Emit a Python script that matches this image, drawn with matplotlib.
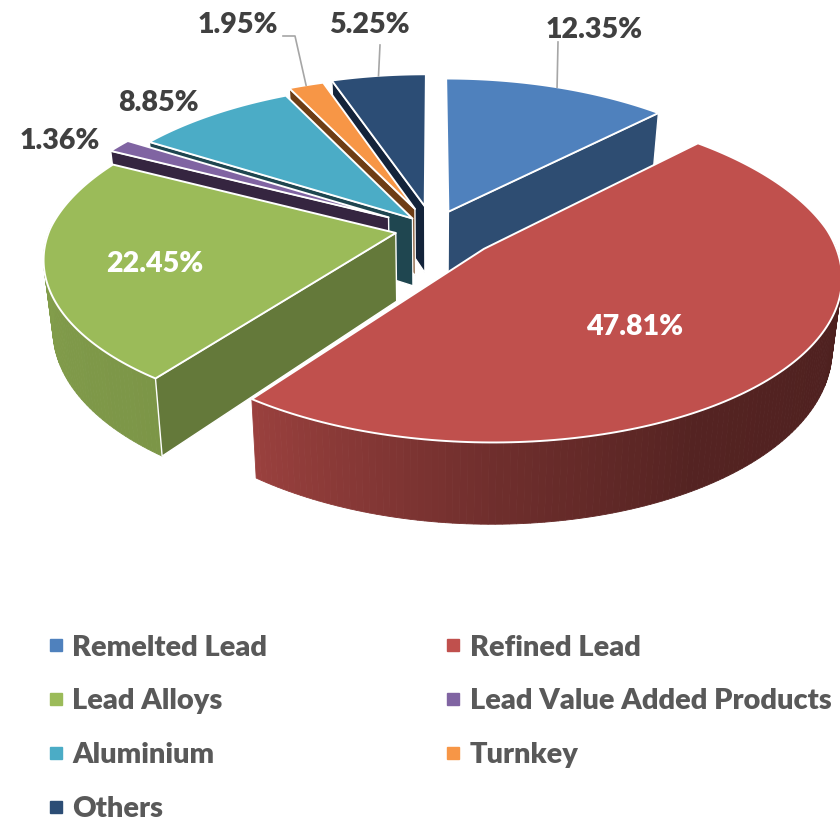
import matplotlib
matplotlib.use("Agg")
import matplotlib.pyplot as plt
from matplotlib.colors import to_rgb
from matplotlib.lines import Line2D
from matplotlib.patches import Polygon
import numpy as np

categories = ["Remelted Lead", "Refined Lead", "Lead Alloys", "Lead Value Added Products",
              "Aluminium", "Turnkey", "Others"]
values = [12.35, 47.81, 22.45, 1.36, 8.85, 1.95, 5.25]

colors = ["#4f81bd", "#c0504d", "#9bbb59", "#8064a2", "#4bacc6", "#f79646", "#2c4d75"]
face_colors = ["#2e4d72", "#5a2525", "#64793a", "#352540", "#1f4650", "#6e3d15", "#13233a"]
explode = [0.12, 0.19, 0.11, 0.15, 0.09, 0.14, 0.15]
draw_order = [0, 6, 5, 4, 3, 2, 1]

label_pos = [(594, 30), (635, 327), (155, 264), (60, 141), (158, 103), (238, 25), (369, 25)]
label_col = ["#404040", "white", "white", "#404040", "#404040", "#404040", "#404040"]

# projection of the pie disc, worked out from the picture
CX, CY, RX, RY, PERSP, DEPTH = 433, 229, 346, 158, 0.15, 68

plt.rcParams["font.family"] = ["Lato", "DejaVu Sans"]


def project(px, py, bottom=False):
    den = 1 + PERSP * py
    # the back of the pie is a bit narrower than plain perspective gives
    x = CX + RX * px / (den + 0.025 * max(py, 0))
    y = CY - RY * py / den
    if bottom:
        y = y + DEPTH / den
        x = x + (CX - x) * 0.024
    return x, y


def side_shade(theta):
    return np.interp(theta, [100, 150, 180, 216, 290], [0.40, 0.44, 0.58, 0.80, 0.86])


fig = plt.figure(figsize=(8.4, 8.22), dpi=100)
ax = fig.add_axes([0, 0, 1, 1])
ax.set_xlim(0, 840)
ax.set_ylim(822, 0)
ax.axis("off")

shares = np.array(values) / np.sum(values) * 360
starts = np.concatenate([[0], np.cumsum(shares)[:-1]])
ends = starts + shares
mids = (starts + ends) / 2


def disc_point(i, theta):
    rad, m = np.radians(theta), np.radians(mids[i])
    return explode[i] * np.sin(m) + np.sin(rad), explode[i] * np.cos(m) + np.cos(rad)


z = 2
for i in draw_order:
    apex = (explode[i] * np.sin(np.radians(mids[i])), explode[i] * np.cos(np.radians(mids[i])))
    thetas = np.linspace(starts[i], ends[i], max(int(shares[i]), 4) + 1)

    # outer wall, shaded strip by strip
    for a, b in zip(thetas[:-1], thetas[1:]):
        if np.cos(np.radians((a + b) / 2)) > 0.05:
            continue
        pa, pb = disc_point(i, a), disc_point(i, b)
        quad = [project(*pa), project(*pb), project(*pb, bottom=True), project(*pa, bottom=True)]
        col = np.array(to_rgb(colors[i])) * side_shade((a + b) / 2)
        ax.add_patch(Polygon(quad, closed=True, fc=col, ec=col, lw=0.6, zorder=z))
    z += 1

    # cut faces that look towards the viewer
    for theta, visible in ((starts[i], np.sin(np.radians(starts[i])) < -0.01),
                           (ends[i], np.sin(np.radians(ends[i])) > 0.01)):
        if visible:
            p = disc_point(i, theta)
            quad = [project(*apex), project(*p), project(*p, bottom=True), project(*apex, bottom=True)]
            ax.add_patch(Polygon(quad, closed=True, fc=face_colors[i], ec="white", lw=1.0, zorder=z))
            z += 1

    top = [project(*apex)] + [project(*disc_point(i, t)) for t in thetas]
    ax.add_patch(Polygon(top, closed=True, fc=colors[i], ec="white", lw=1.4, joinstyle="round", zorder=z))
    z += 1

# leader lines end on the rim of their slices
for i, path_start in ((0, [(558, 42)]), (6, [(380, 45)]), (5, [(283, 36), (295, 36)])):
    end = project(*disc_point(i, mids[i]))
    pts = path_start + [end]
    ax.plot([p[0] for p in pts], [p[1] for p in pts], color="#a6a6a6", lw=1.2, zorder=z)
z += 1

for i, v in enumerate(values):
    ax.text(label_pos[i][0], label_pos[i][1], f"{v:.2f}%", color=label_col[i], fontsize=20.6,
            fontweight="heavy", ha="center", va="center", zorder=z)

# matplotlib fills legend columns first, the picture reads row by row
legend_order = [0, 2, 4, 6, 1, 3, 5]
handles = [Line2D([], [], marker="s", ls="", ms=9, color=colors[i]) for i in legend_order]
ax.legend(handles, [categories[i] for i in legend_order], ncol=2, frameon=False,
          loc="upper left", bbox_to_anchor=(0.054, 0.228), borderpad=0, borderaxespad=0,
          labelcolor="#595959", prop={"weight": "heavy", "size": 20.9},
          labelspacing=0.955, handlelength=0.7, handletextpad=0.22, columnspacing=6.06)

fig.savefig("out.png", dpi=100)
